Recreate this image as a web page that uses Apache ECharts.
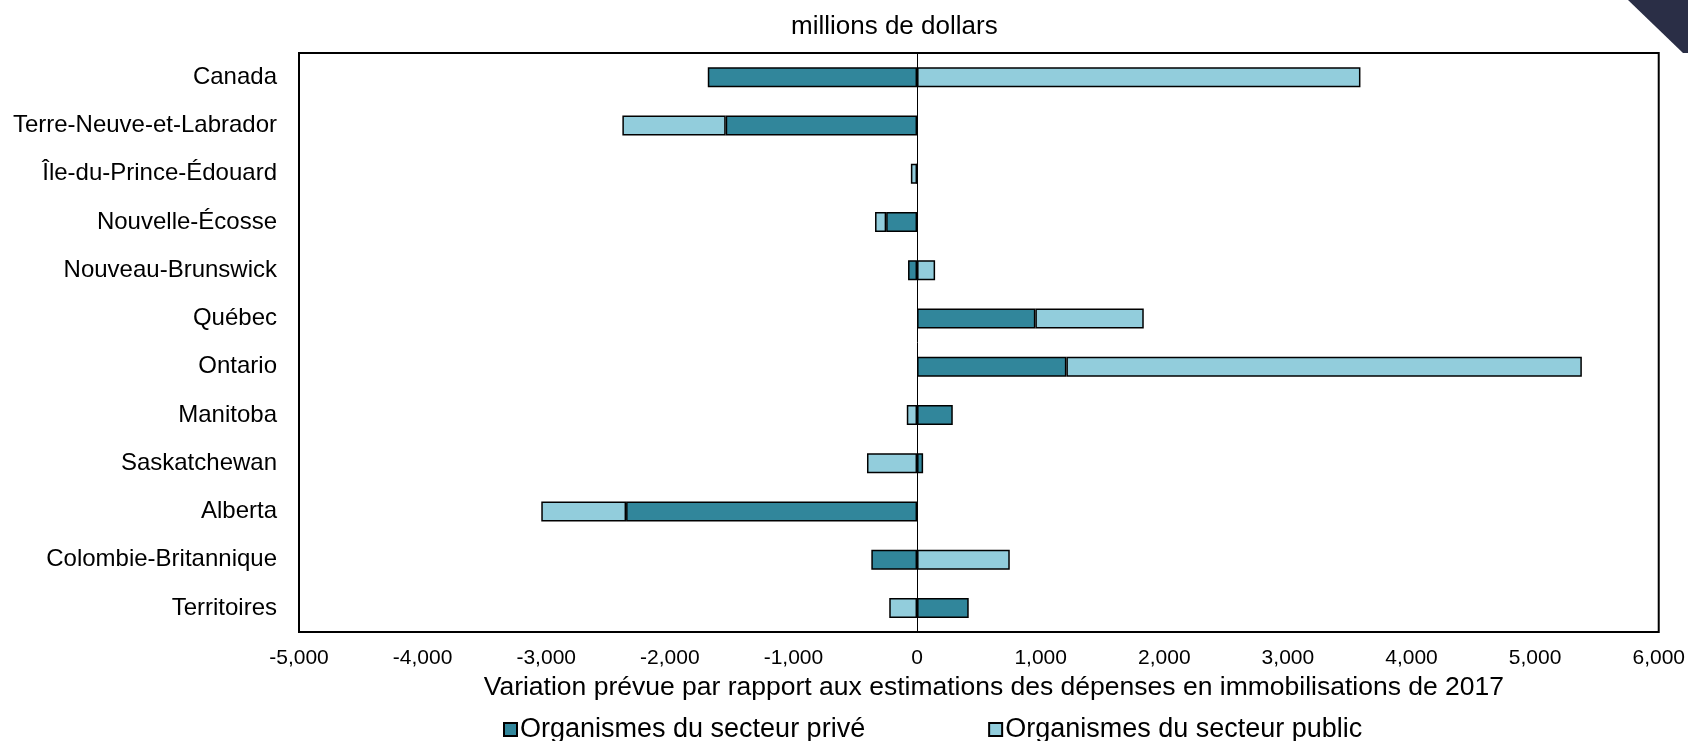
<!DOCTYPE html>
<html>
<head>
<meta charset="utf-8">
<script src="https://cdn.jsdelivr.net/npm/echarts@6/dist/echarts.min.js"></script>
<style>
html,body{margin:0;padding:0;background:#fff;}
#chart{width:1688px;height:741px;}
</style>
</head>
<body>
<div id="chart"></div>
<script>
const categories = ["Canada","Terre-Neuve-et-Labrador","Île-du-Prince-Édouard","Nouvelle-Écosse","Nouveau-Brunswick","Québec","Ontario","Manitoba","Saskatchewan","Alberta","Colombie-Britannique","Territoires"];
const privateValues = [-1693, -1548, 0, -250, -73, 957, 1208, 289, 49, -2354, -370, 418];
const publicValues = [3587, -836, -50, -90, 146, 877, 4170, -83, -405, -686, 750, -225];
const seriesNames = ["Organismes du secteur privé", "Organismes du secteur public"];
const xTicks = {min: -5000, max: 6000, interval: 1000};

const FONT = "'Liberation Sans', Arial, sans-serif";
const chart = echarts.init(document.getElementById('chart'), null, {renderer: 'canvas'});
chart.setOption({
  animation: false,
  backgroundColor: '#ffffff',
  title: {
    text: 'millions de dollars',
    left: 786,
    top: 9,
    textStyle: {fontFamily: FONT, fontSize: 26, fontWeight: 'normal', color: '#000'}
  },
  legend: {
    data: seriesNames,
    left: 498,
    top: 711,
    itemWidth: 13,
    itemHeight: 13,
    itemGap: 123,
    icon: 'rect',
    textStyle: {fontFamily: FONT, fontSize: 27, color: '#000', padding: [0,0,0,-2]}
  },
  grid: {
    left: 299, right: 29, top: 53, bottom: 109,
    show: true, borderColor: '#000', borderWidth: 2, backgroundColor: 'transparent'
  },
  xAxis: {
    type: 'value',
    min: xTicks.min, max: xTicks.max, interval: xTicks.interval,
    name: 'Variation prévue par rapport aux estimations des dépenses en immobilisations de 2017',
    nameLocation: 'middle',
    nameGap: 42,
    nameTextStyle: {fontFamily: FONT, fontSize: 26.5, color: '#000', padding: [0,0,0,30]},
    axisLine: {show: false},
    axisTick: {show: false},
    splitLine: {show: false},
    axisLabel: {
      fontFamily: FONT, fontSize: 21, color: '#000', margin: 16,
      formatter: v => v.toLocaleString('en-US')
    }
  },
  yAxis: {
    type: 'category',
    data: categories,
    inverse: true,
    axisLine: {show: false},
    axisTick: {show: false},
    splitLine: {show: false},
    axisLabel: {fontFamily: FONT, fontSize: 24, color: '#000', margin: 22}
  },
  graphic: [{
    type: 'polygon',
    shape: {points: [[1628,0],[1688,0],[1688,53],[1683,53]]},
    style: {fill: '#2a2e46'},
    z: 100
  }],
  series: [
    {
      name: seriesNames[0],
      type: 'bar',
      stack: 'total',
      data: privateValues,
      barWidth: 20,
      itemStyle: {color: '#31869b', borderColor: '#000', borderWidth: 1.5},
      markLine: {
        silent: true,
        symbol: ['none','none'],
        label: {show: false},
        lineStyle: {color: '#000', width: 1, type: 'solid'},
        data: [{xAxis: 0}],
        z: 10
      }
    },
    {
      name: seriesNames[1],
      type: 'bar',
      stack: 'total',
      data: publicValues,
      barWidth: 20,
      itemStyle: {color: '#92cddc', borderColor: '#000', borderWidth: 1.5}
    }
  ]
});
</script>
</body>
</html>
